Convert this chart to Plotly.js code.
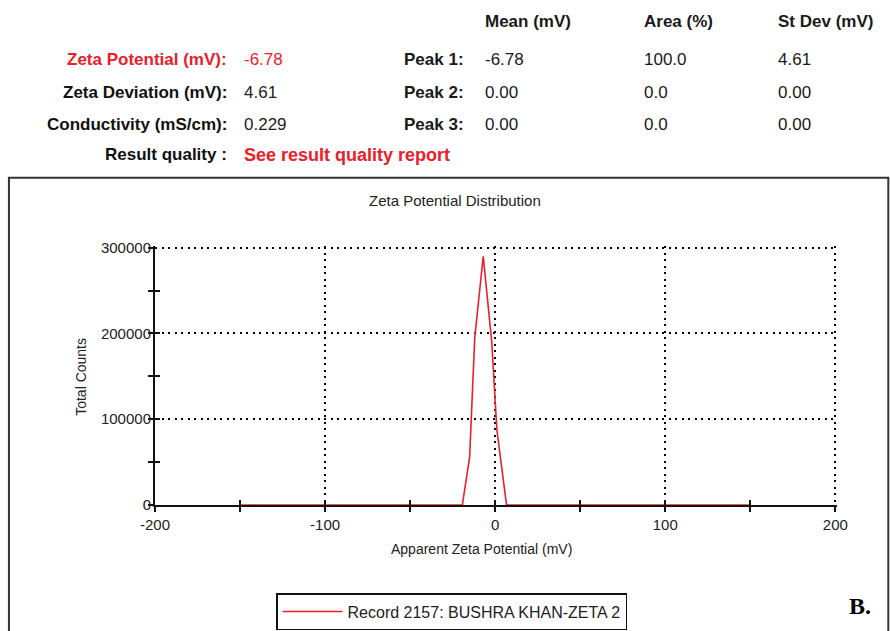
<!DOCTYPE html>
<html>
<head>
<meta charset="utf-8">
<script src="https://cdn.plot.ly/plotly-3.0.1.min.js"></script>
<style>
  html, body { margin: 0; padding: 0; background: #fff; }
  #chart { width: 890px; height: 631px; }
</style>
</head>
<body>
<div id="chart"></div>
<script>
// ---- data ----
const zetaPotential = [-150, -19.3, -15, -12, -7, -2, 1, 6.7, 150];   // mV
const totalCounts   = [0, 0, 56000, 195000, 290000, 190000, 88000, 0, 0];
const seriesName = 'Record 2157: BUSHRA KHAN-ZETA 2';

const xTickVals = [-200, -100, 0, 100, 200];
const xTickText = ['-200', '-100', '0', '100', '200'];
const yTickVals = [0, 100000, 200000, 300000];
const yTickText = ['0', '100000', '200000', '300000'];

const summaryLabels = ['Zeta Potential (mV):', 'Zeta Deviation (mV):', 'Conductivity (mS/cm):', 'Result quality :'];
const summaryValues = ['-6.78', '4.61', '0.229', 'See result quality report'];
const peakLabels = ['Peak 1:', 'Peak 2:', 'Peak 3:'];
const peakHeaders = ['Mean (mV)', 'Area (%)', 'St Dev (mV)'];
const peakMean  = ['-6.78', '0.00', '0.00'];
const peakArea  = ['100.0', '0.0', '0.0'];
const peakStDev = ['4.61', '0.00', '0.00'];

// ---- layout geometry ----
// axis ranges are padded by a hair so the dotted grid lines at x=200 and y=300000
// (the top and right edges in the reference) are kept by Plotly
const X_RANGE = [-200, 201];
const Y_RANGE = [0, 302000];
const W = 890, H = 631;
const xPerUnit = 680 / 400, yPerUnit = 257 / 300000;
const M = {
  l: 155,
  r: W - (155 + (X_RANGE[1] - X_RANGE[0]) * xPerUnit),
  b: 126,
  t: H - 126 - (Y_RANGE[1] - Y_RANGE[0]) * yPerUnit,
  autoexpand: false
};
const PW = W - M.l - M.r, PH = H - M.t - M.b;
const px = x => (x - M.l) / PW;          // page px -> paper x
const py = y => (H - M.b - y) / PH;      // page px -> paper y

const RED = '#e8202a';
const FONT = 'Arial, "Liberation Sans", sans-serif';
const ann = [];
function txt(text, x, y, anchor, opts) {
  opts = opts || {};
  ann.push({
    xref: 'paper', yref: 'paper', x: px(x), y: py(y),
    xanchor: anchor, yanchor: 'middle', showarrow: false,
    text: opts.bold ? '<b>' + text + '</b>' : text,
    font: { family: opts.family || FONT, size: opts.size || 17, color: opts.color || '#1a1a1a' }
  });
}

// header table
const rowY = [60, 93, 125, 155];
const colX = [483, 642, 776];
peakHeaders.forEach((h, i) => txt(h, colX[i], 22, 'left', { bold: true }));
summaryLabels.forEach((l, i) => txt(l, 229, rowY[i], 'right', { bold: true, color: i === 0 ? RED : '#111' }));
summaryValues.forEach((v, i) => txt(v, 242, rowY[i], 'left', {
  bold: i === 3, color: (i === 0 || i === 3) ? RED : '#222', size: i === 3 ? 18 : 17 }));
peakLabels.forEach((l, i) => {
  txt(l, 466, rowY[i], 'right', { bold: true });
  txt(peakMean[i], colX[0], rowY[i], 'left');
  txt(peakArea[i], colX[1], rowY[i], 'left');
  txt(peakStDev[i], colX[2], rowY[i], 'left');
});

// chart texts
txt('Zeta Potential Distribution', 455, 201, 'center', { size: 15, color: '#222' });
txt('Apparent Zeta Potential (mV)', 481, 549, 'center', { size: 14, color: '#222' });
ann.push({
  xref: 'paper', yref: 'paper', x: px(81), y: py(377), xanchor: 'center', yanchor: 'middle',
  showarrow: false, textangle: -90, text: 'Total Counts',
  font: { family: FONT, size: 14, color: '#222' }
});
txt('B.', 860, 606, 'center', { bold: true, size: 24, color: '#000', family: '"Liberation Serif", "Times New Roman", serif' });

const grid = { showgrid: true, gridcolor: '#000', gridwidth: 2, griddash: '2px,4.5px' };

const trace = {
  x: zetaPotential, y: totalCounts, type: 'scatter', mode: 'lines',
  name: seriesName, line: { color: RED, width: 1.6 }, showlegend: true
};
const ghost = {
  x: zetaPotential, y: totalCounts, xaxis: 'x2', yaxis: 'y2', type: 'scatter', mode: 'lines',
  line: { width: 0 }, hoverinfo: 'skip', showlegend: false
};

const layout = {
  width: W, height: H,
  margin: M,
  paper_bgcolor: '#fff', plot_bgcolor: '#fff',
  font: { family: FONT, color: '#222' },
  showlegend: true,
  xaxis: Object.assign({
    range: X_RANGE, tickvals: xTickVals, ticktext: xTickText,
    ticks: 'outside', ticklen: 5, tickwidth: 2, tickcolor: '#111',
    minor: { tickvals: [-150, -50, 50, 150], ticks: 'outside', ticklen: 5, tickwidth: 2, tickcolor: '#111', showgrid: false },
    showline: true, linecolor: '#111', linewidth: 2, zeroline: false,
    tickfont: { family: FONT, size: 15, color: '#222' }, fixedrange: true
  }, grid),
  yaxis: Object.assign({
    range: Y_RANGE, tickvals: yTickVals, ticktext: yTickText,
    ticks: 'outside', ticklen: 5, tickwidth: 2, tickcolor: '#111',
    minor: { tickvals: [50000, 150000, 250000], ticks: 'outside', ticklen: 5, tickwidth: 2, tickcolor: '#111', showgrid: false },
    showline: true, linecolor: '#111', linewidth: 2, zeroline: false,
    ticklabelstandoff: -6,
    tickfont: { family: FONT, size: 15, color: '#222' }, fixedrange: true
  }, grid),
  xaxis2: {
    overlaying: 'x', range: X_RANGE, tickvals: [-150, -100, -50, 0, 50, 100, 150],
    ticks: 'inside', ticklen: 5, tickwidth: 2, tickcolor: '#111',
    showticklabels: false, showgrid: false, zeroline: false, showline: false, fixedrange: true
  },
  yaxis2: {
    overlaying: 'y', range: Y_RANGE, tickvals: [50000, 100000, 150000, 200000, 250000],
    ticks: 'inside', ticklen: 5, tickwidth: 2, tickcolor: '#111',
    showticklabels: false, showgrid: false, zeroline: false, showline: false, fixedrange: true
  },
  legend: {
    x: px(276), y: py(593), xanchor: 'left', yanchor: 'top',
    bordercolor: '#111', borderwidth: 1.5, bgcolor: '#fff',
    font: { family: FONT, size: 16, color: '#222' },
    itemwidth: 60, tracegroupgap: 0
  },
  shapes: [{
    type: 'rect', xref: 'paper', yref: 'paper',
    x0: px(9), x1: px(888), y0: py(178), y1: py(660),
    line: { color: '#333', width: 2 }, layer: 'below'
  }],
  annotations: ann
};

Plotly.newPlot('chart', [trace, ghost], layout, { staticPlot: true, displayModeBar: false });
</script>
</body>
</html>
